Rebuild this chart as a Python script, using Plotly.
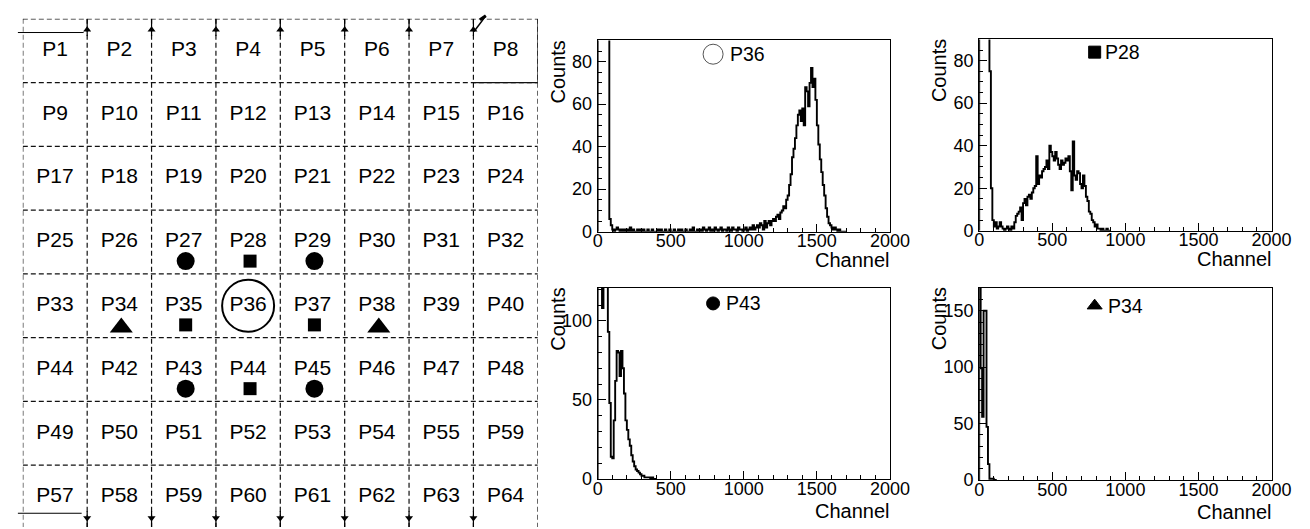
import numpy as np
import plotly.graph_objects as go

W, H = 1310, 529
FONT = "Liberation Sans, Arial, sans-serif"

# ---------------- data ----------------
grid_labels = [
    "P1", "P2", "P3", "P4", "P5", "P6", "P7", "P8",
    "P9", "P10", "P11", "P12", "P13", "P14", "P15", "P16",
    "P17", "P18", "P19", "P20", "P21", "P22", "P23", "P24",
    "P25", "P26", "P27", "P28", "P29", "P30", "P31", "P32",
    "P33", "P34", "P35", "P36", "P37", "P38", "P39", "P40",
    "P44", "P42", "P43", "P44", "P45", "P46", "P47", "P48",
    "P49", "P50", "P51", "P52", "P53", "P54", "P55", "P59",
    "P57", "P58", "P59", "P60", "P61", "P62", "P63", "P64",
]
grid_cols = 8
grid_rows = 8
# (row, col) of the cells carrying a symbol
circle_cells = [(3, 2), (3, 4), (5, 2), (5, 4)]
square_cells = [(3, 3), (4, 2), (4, 4), (5, 3)]
triangle_cells = [(4, 1), (4, 5)]
ring_cells = [(4, 3)]

bin_width = 10  # channels per bin

p36_counts = [
    200, 350, 400, 380, 300, 250, 180, 120, 6, 3,
    1, 0, 1, 2, 1, 0, 1, 0, 1, 0,
    1, 0, 2, 0, 1, 0, 0, 1, 0, 1,
    0, 1, 0, 0, 1, 0, 0, 1, 0, 0,
    0, 1, 0, 1, 0, 0, 1, 0, 0, 1,
    0, 0, 1, 0, 0, 1, 0, 1, 0, 0,
    1, 0, 0, 1, 0, 2, 0, 0, 1, 0,
    1, 0, 2, 1, 0, 1, 2, 0, 1, 0,
    2, 1, 0, 1, 2, 0, 1, 1, 0, 2,
    1, 0, 2, 1, 1, 0, 2, 1, 1, 0,
    1, 2, 0, 1, 2, 1, 3, 1, 2, 3,
    2, 4, 3, 1, 5, 2, 4, 5, 3, 5,
    6, 5, 7, 8, 6, 9, 10, 12, 11, 15,
    17, 22, 27, 35, 39, 44, 50, 55, 57, 52,
    58, 50, 68, 66, 59, 70, 77, 68, 72, 62,
    50, 41, 34, 28, 22, 17, 11, 7, 4, 3,
    2, 1, 2, 1, 0, 1, 0, 0, 0, 0,
]

p28_counts = [
    300, 350, 300, 250, 200, 150, 110, 75, 20, 5,
    2, 4, 1, 2, 4, 2, 1, 0, 1, 2,
    1, 0, 2, 1, 4, 7, 8, 9, 11, 5,
    13, 15, 12, 16, 17, 15, 18, 20, 21, 35,
    22, 26, 25, 28, 29, 30, 33, 29, 40, 37,
    35, 33, 37, 34, 31, 29, 33, 31, 32, 34,
    33, 35, 28, 19, 42, 26, 24, 28, 27, 22,
    20, 26, 21, 16, 14, 9, 8, 5, 4, 2,
    3, 1, 1, 0, 1, 0, 0, 1, 0, 0,
]

p43_counts = [
    250, 300, 280, 108, 220, 300, 160, 93, 48, 14,
    13, 37, 62, 81, 80, 65, 81, 70, 54, 37,
    31, 25, 21, 15, 11, 8, 6, 5, 4, 3,
    2, 2, 1, 1, 1, 1, 0, 1, 0, 0,
]

p34_counts = [180, 99, 56, 150, 150, 47, 14, 1, 1, 1, 0, 0]

x_tick_vals = [0, 500, 1000, 1500, 2000]

panels = [
    dict(label="P36", counts=p36_counts, ymax=90, ydtick=20, yminor=5,
         symbol="circle-open", msize=20, mcolor="#555555", my=83.5, tshift=15,
         px=(596, 894), py=(33, 228), chan_shift=-15),
    dict(label="P28", counts=p28_counts, ymax=90, ydtick=20, yminor=5,
         symbol="square", msize=12, mcolor="black", my=84, tshift=8,
         px=(985, 1283), py=(32, 227), chan_shift=-15),
    dict(label="P43", counts=p43_counts, ymax=121, ydtick=50, yminor=10,
         symbol="circle", msize=13, mcolor="black", my=111, tshift=11,
         px=(596, 894), py=(285, 480), chan_shift=-19),
    dict(label="P34", counts=p34_counts, ymax=170.5, ydtick=50, yminor=10,
         symbol="triangle-up", msize=13, mcolor="black", my=154.5, tshift=11,
         px=(985, 1283), py=(285, 481), chan_shift=-19),
]
legend_x = 790


def xd(a, b):
    return [a / W, b / W]


def yd(top, bottom):
    return [1 - bottom / H, 1 - top / H]


def sfx(i):
    return "" if i == 1 else str(i)


fig = go.Figure()
layout_axes = {}
annotations = []
shapes = []

# ---------------- histograms ----------------
for i, p in enumerate(panels, start=1):
    s = sfx(i)
    counts = p["counts"]
    edges = np.arange(len(counts) + 1) * bin_width
    xs = np.concatenate([[0], edges])
    ys = np.concatenate([[0], counts, [0]])
    fig.add_trace(go.Scatter(
        x=xs, y=ys, mode="lines", line=dict(color="black", width=1.9, shape="hv"),
        xaxis=f"x{s}", yaxis=f"y{s}", showlegend=False, hoverinfo="skip"))
    # legend symbol
    fig.add_trace(go.Scatter(
        x=[legend_x], y=[p["my"]], mode="markers",
        marker=dict(symbol=p["symbol"], size=p["msize"], color=p["mcolor"],
                    line=dict(color=p["mcolor"], width=1)),
        xaxis=f"x{s}", yaxis=f"y{s}", showlegend=False, hoverinfo="skip",
        cliponaxis=False))
    annotations.append(dict(
        text=p["label"], x=legend_x, y=p["my"], xref=f"x{s}", yref=f"y{s}",
        xanchor="left", yanchor="middle", xshift=p["tshift"], showarrow=False,
        font=dict(family=FONT, size=19.5, color="black")))
    annotations.append(dict(
        text="Counts", x=0, y=1, xref=f"x{s} domain", yref=f"y{s} domain",
        xanchor="right", yanchor="top", xshift=-27, yshift=2, textangle=-90,
        showarrow=False, font=dict(family=FONT, size=20, color="black")))
    annotations.append(dict(
        text="Channel", x=1, y=0, xref=f"x{s} domain", yref=f"y{s} domain",
        xanchor="right", yanchor="top", xshift=2, yshift=p["chan_shift"],
        showarrow=False, font=dict(family=FONT, size=20, color="black")))

    axis_common = dict(
        showline=True, linecolor="black", linewidth=1, mirror=True,
        ticks="inside", tickcolor="black", tickwidth=1, ticklen=8,
        showgrid=False, zeroline=False,
        tickfont=dict(family=FONT, size=18, color="black"),
    )
    layout_axes[f"xaxis{s}"] = dict(
        axis_common, domain=xd(*p["px"]), range=[0, 2000], anchor=f"y{s}",
        tickvals=x_tick_vals, ticklabelstandoff=-7,
        minor=dict(dtick=100, tick0=0, ticks="inside", ticklen=4,
                   tickcolor="black", showgrid=False))
    layout_axes[f"yaxis{s}"] = dict(
        axis_common, domain=yd(*p["py"]), range=[0, p["ymax"]], anchor=f"x{s}",
        tick0=0, dtick=p["ydtick"], ticklabelstandoff=1,
        minor=dict(dtick=p["yminor"], tick0=0, ticks="inside", ticklen=4,
                   tickcolor="black", showgrid=False))

# ---------------- pixel map grid ----------------
g = 5
grid_px = (10, 535)
grid_py_top = 11
row_h = 65.0
y_span = (H - grid_py_top) / row_h
layout_axes[f"xaxis{g}"] = dict(domain=xd(*grid_px), range=[0, grid_cols],
                                visible=False, anchor=f"y{g}")
layout_axes[f"yaxis{g}"] = dict(domain=yd(grid_py_top, H), range=[y_span, 0],
                                visible=False, anchor=f"x{g}")

# labels
lab_x = [k % grid_cols + 0.5 for k in range(len(grid_labels))]
lab_y = [k // grid_cols + 0.5 for k in range(len(grid_labels))]
fig.add_trace(go.Scatter(
    x=lab_x, y=lab_y, text=grid_labels, mode="text",
    textfont=dict(family=FONT, size=21, color="black"),
    xaxis=f"x{g}", yaxis=f"y{g}", showlegend=False, hoverinfo="skip"))


def cell_markers(cells, symbol, size, dy, color="black", lw=0):
    fig.add_trace(go.Scatter(
        x=[c + 0.53 for r, c in cells], y=[r + dy for r, c in cells],
        mode="markers",
        marker=dict(symbol=symbol, size=size, color=color,
                    line=dict(color="black", width=lw)),
        xaxis=f"x{g}", yaxis=f"y{g}", showlegend=False, hoverinfo="skip",
        cliponaxis=False))


cell_markers(circle_cells, "circle", 18, 0.8)
cell_markers(square_cells, "square", 13, 0.8)
cell_markers(triangle_cells, "triangle-up", 20, 0.84)
fig.add_trace(go.Scatter(
    x=[c + 0.5 for r, c in ring_cells], y=[r + 0.5 for r, c in ring_cells],
    mode="markers",
    marker=dict(symbol="circle-open", size=52, color="black",
                line=dict(color="black", width=2)),
    xaxis=f"x{g}", yaxis=f"y{g}", showlegend=False, hoverinfo="skip",
    cliponaxis=False))

dash = "5px,3px"
gcol = "#111"
for c in range(grid_cols + 1):
    shapes.append(dict(type="line", xref=f"x{g}", yref=f"y{g}", x0=c, x1=c,
                       y0=0, y1=y_span, line=dict(color=gcol, width=1.2, dash=dash)))
for r in range(grid_rows):
    shapes.append(dict(type="line", xref=f"x{g}", yref=f"y{g}", x0=0, x1=grid_cols,
                       y0=r, y1=r, line=dict(color=gcol, width=1.2, dash=dash)))
# solid edges around P8
shapes.append(dict(type="line", xref=f"x{g}", yref=f"y{g}", x0=7, x1=8, y0=1, y1=1,
                   line=dict(color=gcol, width=1.2)))
shapes.append(dict(type="line", xref=f"x{g}", yref=f"y{g}", x0=8, x1=8, y0=0, y1=1,
                   line=dict(color=gcol, width=1.2)))
# small arrow marks at the top and bottom of the internal column lines
for c in range(1, grid_cols):
    shapes.append(dict(type="line", xref=f"x{g}", yref=f"y{g}", x0=c, x1=c,
                       y0=0.0, y1=0.27, line=dict(color="black", width=1.2)))
    shapes.append(dict(type="line", xref=f"x{g}", yref=f"y{g}", x0=c, x1=c,
                       y0=7.72, y1=y_span, line=dict(color="black", width=1.2)))
fig.add_trace(go.Scatter(
    x=list(range(1, grid_cols)), y=[0.17] * (grid_cols - 1), mode="markers",
    marker=dict(symbol="triangle-up", size=7, color="black"),
    xaxis=f"x{g}", yaxis=f"y{g}", showlegend=False, hoverinfo="skip"))
fig.add_trace(go.Scatter(
    x=list(range(1, grid_cols)), y=[7.83] * (grid_cols - 1), mode="markers",
    marker=dict(symbol="triangle-down", size=7, color="black"),
    xaxis=f"x{g}", yaxis=f"y{g}", showlegend=False, hoverinfo="skip"))
# solid stubs at left top / bottom and the corner tick at top right
shapes.append(dict(type="line", xref="paper", yref="paper", x0=5 / W, x1=72 / W,
                   y0=1 - 25 / H, y1=1 - 25 / H, line=dict(color="black", width=1)))
shapes.append(dict(type="line", xref="paper", yref="paper", x0=5 / W, x1=70 / W,
                   y0=1 - 515 / H, y1=1 - 515 / H, line=dict(color="black", width=1)))
shapes.append(dict(type="line", xref="paper", yref="paper", x0=470 / W, x1=482 / W,
                   y0=1 - 24 / H, y1=1 - 8 / H, line=dict(color="black", width=1.5)))
shapes.append(dict(type="line", xref="paper", yref="paper", x0=476 / W, x1=482 / W,
                   y0=1 - 12 / H, y1=1 - 8 / H, line=dict(color="black", width=3)))

fig.update_layout(
    width=W, height=H, margin=dict(l=0, r=0, t=0, b=0),
    paper_bgcolor="white", plot_bgcolor="white",
    showlegend=False, annotations=annotations, shapes=shapes,
    font=dict(family=FONT, color="black"),
    **layout_axes,
)

fig.write_html("out.html")
